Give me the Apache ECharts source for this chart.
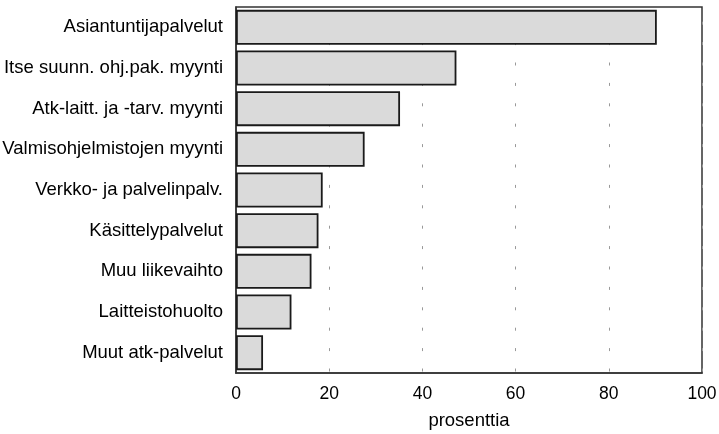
<!DOCTYPE html>
<html>
<head>
<meta charset="utf-8">
<script src="https://cdn.jsdelivr.net/npm/echarts@6/dist/echarts.min.js"></script>
<style>
html,body{margin:0;padding:0;background:#fff;}
#chart{width:719px;height:434px;}
</style>
</head>
<body>
<div id="chart"></div>
<script>
// Categories listed bottom-to-top (ECharts category y-axis starts at bottom)
const categories = [
  "Muut atk-palvelut",
  "Laitteistohuolto",
  "Muu liikevaihto",
  "Käsittelypalvelut",
  "Verkko- ja palvelinpalv.",
  "Valmisohjelmistojen myynti",
  "Atk-laitt. ja -tarv. myynti",
  "Itse suunn. ohj.pak. myynti",
  "Asiantuntijapalvelut"
];
const values = [5.8, 11.9, 16.2, 17.7, 18.6, 27.6, 35.2, 47.3, 90.3];
const xTicks = [0, 20, 40, 60, 80, 100];
const xAxisTitle = "prosenttia";

const chart = echarts.init(document.getElementById('chart'), null, {renderer: 'canvas'});
const font = 'Liberation Sans, Arial, Helvetica, sans-serif';
chart.setOption({
  animation: false,
  backgroundColor: '#ffffff',
  grid: {
    left: 236, right: 17, top: 7, bottom: 61,
    containLabel: false,
    outerBoundsMode: 'none',
    show: true, borderColor: '#333', borderWidth: 1.5, backgroundColor: 'transparent'
  },
  xAxis: {
    type: 'value',
    min: xTicks[0], max: xTicks[xTicks.length - 1], interval: 20,
    name: xAxisTitle,
    nameLocation: 'middle',
    nameGap: 38,
    nameTextStyle: {fontFamily: font, fontSize: 18.5, color: '#000'},
    axisLine: {show: true, lineStyle: {color: '#333', width: 1.5}},
    axisTick: {show: false},
    axisLabel: {fontFamily: font, fontSize: 17.5, color: '#000', margin: 12},
    splitLine: {
      show: true,
      lineStyle: {color: '#999', width: 1, type: [3, 17.4], dashOffset: 5.7}
    }
  },
  yAxis: {
    type: 'category',
    data: categories,
    axisLine: {show: true, lineStyle: {color: '#333', width: 1.5}},
    axisTick: {show: false},
    axisLabel: {fontFamily: font, fontSize: 18.5, color: '#000', margin: 13},
    splitLine: {show: false}
  },
  series: [{
    type: 'bar',
    data: values,
    barCategoryGap: '14%',
    itemStyle: {color: '#dadada', borderColor: '#1a1a1a', borderWidth: 1.8},
    silent: true
  }]
});
</script>
</body>
</html>
